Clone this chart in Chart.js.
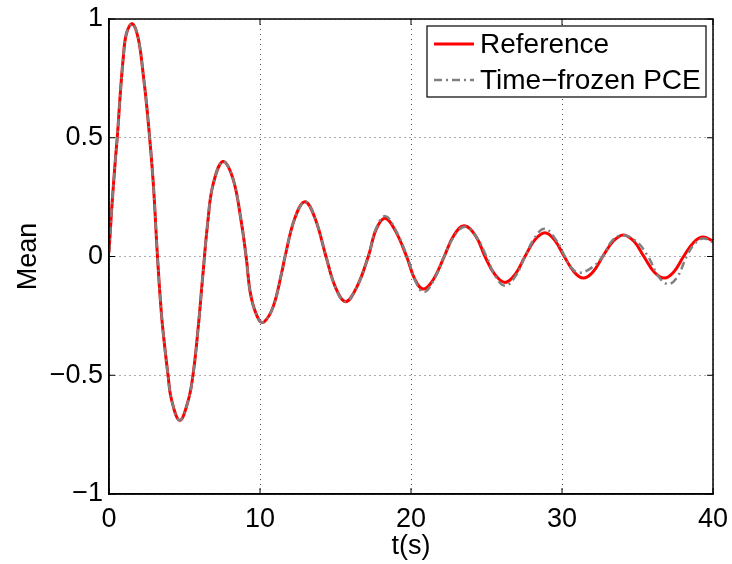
<!DOCTYPE html>
<html>
<head>
<meta charset="utf-8">
<script src="https://cdn.jsdelivr.net/npm/chart.js@4.4.1/dist/chart.umd.min.js"></script>
<style>
  html, body { margin: 0; padding: 0; background: #fff; }
  #wrap { width: 732px; height: 564px; }
</style>
</head>
<body>
<div id="wrap"><canvas id="meanChart" width="732" height="564"></canvas></div>
<script>
// values (t in seconds, mean response)
const tRef = [0, 0.18, 0.4, 0.57, 0.73, 0.95, 1.16, 1.54, 1.93, 2.26, 2.55, 2.92, 3.21, 3.47, 3.69,
  3.91, 4.13, 4.68, 5.23, 5.56, 5.89, 6.22, 6.55, 6.88, 7.54, 8.2, 8.75, 9.08, 9.41, 9.95, 10.29,
  10.88, 11.44, 11.66,
  12.3, 12.98, 13.65, 14.37, 15.0, 15.67, 16.4, 17.17, 17.7, 18.28, 18.95, 19.71, 20.25, 20.82,
  21.5, 22.2, 22.85, 23.53, 24.3, 24.9, 25.55, 26.23, 26.9, 27.55, 28.2, 28.87, 29.5, 30.15,
  30.8, 31.41, 32.05, 32.7, 33.4, 34.06, 34.75, 35.42, 36.1, 36.78, 37.4, 38.05, 38.7, 39.3, 40]
const meanRef = [0.017, 0.2, 0.39, 0.52, 0.67, 0.84, 0.94, 0.98, 0.92, 0.77, 0.6, 0.32, 0, -0.24, -0.38,
  -0.5, -0.6, -0.69, -0.61, -0.5, -0.31, -0.074, 0.15, 0.3, 0.4, 0.33, 0.15, 0, -0.17, -0.27, -0.275,
  -0.21, -0.067, 0,
  0.16, 0.231, 0.16, 0, -0.13, -0.19, -0.13, 0, 0.115, 0.161, 0.11, 0, -0.095, -0.137,
  -0.095, 0, 0.09, 0.129, 0.085, 0, -0.075, -0.109, -0.075, 0, 0.07, 0.1, 0.07, 0,
  -0.065, -0.091, -0.065, 0, 0.065, 0.091, 0.065, 0, -0.065, -0.091, -0.065, 0, 0.058, 0.082, 0.066]

const tPce = [0, 0.18, 0.4, 0.57, 0.73, 0.95, 1.16, 1.54, 1.93, 2.26, 2.55, 2.92, 3.21, 3.47, 3.69,
  3.91, 4.13, 4.68, 5.23, 5.56, 5.89, 6.22, 6.55, 6.88, 7.54, 8.2, 8.75, 9.08, 9.41, 9.95, 10.29,
  10.88, 11.44, 11.66,
  12.3, 12.98, 13.65, 14.37, 15.0, 15.67, 16.4, 17.17, 17.7, 18.3, 18.95, 19.75, 20.3, 20.85,
  21.5, 22.2, 22.9, 23.6, 24.35, 25.0, 25.6, 26.25, 26.95, 27.55, 28.2, 28.85, 29.55, 30.2,
  30.6, 31.1, 31.9, 32.7, 33.3, 34.0, 34.9, 35.7, 36.4, 37.04, 37.65, 38.25, 38.8, 39.35, 40]
const meanPce = [0.017, 0.2, 0.39, 0.52, 0.67, 0.84, 0.94, 0.98, 0.92, 0.77, 0.6, 0.32, 0, -0.24, -0.38,
  -0.5, -0.6, -0.69, -0.61, -0.5, -0.31, -0.074, 0.15, 0.3, 0.4, 0.33, 0.15, 0, -0.17, -0.27, -0.275,
  -0.21, -0.067, 0,
  0.16, 0.231, 0.16, 0, -0.13, -0.19, -0.13, 0, 0.12, 0.17, 0.115, 0, -0.105, -0.15,
  -0.1, 0, 0.09, 0.125, 0.08, 0, -0.085, -0.123, -0.08, 0, 0.08, 0.117, 0.075, 0,
  -0.045, -0.068, -0.05, 0, 0.065, 0.09, 0.065, 0, -0.085, -0.116, -0.085, 0, 0.055, 0.076, 0.06]

const seriesNames = ['Reference', 'Time\u2212frozen PCE']
const xTicks = [0, 10, 20, 30, 40]
const yTicks = [-1, -0.5, 0, 0.5, 1]

const FONT = 'Liberation Sans, Arial, Helvetica, sans-serif'

function pairs (xs, ys) {
  return xs.map(function (x, i) { return { x: x, y: ys[i] } })
}

function minusSign (v) {
  return String(v).replace('-', '\u2212')
}

// box around the axes, inward ticks, legend inside the plot (matlab style)
const boxAndLegend = {
  id: 'boxAndLegend',
  afterDatasetsDraw: function (chart) {
    const ctx = chart.ctx
    const a = chart.chartArea
    const sx = chart.scales.x
    const sy = chart.scales.y
    ctx.save()
    ctx.strokeStyle = '#000'
    ctx.lineWidth = 1.5
    ctx.setLineDash([])
    ctx.strokeRect(a.left, a.top, a.right - a.left, a.bottom - a.top)

    ctx.lineWidth = 1
    ctx.beginPath()
    xTicks.forEach(function (v) {
      const px = sx.getPixelForValue(v)
      ctx.moveTo(px, a.bottom); ctx.lineTo(px, a.bottom - 6)
      ctx.moveTo(px, a.top); ctx.lineTo(px, a.top + 6)
    })
    yTicks.forEach(function (v) {
      const py = sy.getPixelForValue(v)
      ctx.moveTo(a.left, py); ctx.lineTo(a.left + 6, py)
      ctx.moveTo(a.right, py); ctx.lineTo(a.right - 6, py)
    })
    ctx.stroke()

    const bx = 427
    const by = 26
    const bw = 279
    const bh = 71
    ctx.fillStyle = '#fff'
    ctx.fillRect(bx, by, bw, bh)
    ctx.lineWidth = 1.2
    ctx.strokeRect(bx, by, bw, bh)

    const rows = [44, 80]
    chart.data.datasets.forEach(function (ds, i) {
      ctx.beginPath()
      ctx.strokeStyle = ds.borderColor
      ctx.lineWidth = ds.borderWidth
      ctx.setLineDash(ds.borderDash || [])
      ctx.moveTo(bx + 7, rows[i])
      ctx.lineTo(bx + 47, rows[i])
      ctx.stroke()
      ctx.setLineDash([])
      ctx.fillStyle = '#000'
      ctx.font = '28px ' + FONT
      ctx.textBaseline = 'middle'
      ctx.textAlign = 'left'
      ctx.fillText(ds.label, bx + 53, rows[i] + 1)
    })
    ctx.restore()
  }
}

const ctx = document.getElementById('meanChart').getContext('2d')
const meanChart = new Chart(ctx, {
  type: 'line',
  data: {
    datasets: [{
      label: seriesNames[0],
      data: pairs(tRef, meanRef),
      borderColor: '#ff0000',
      borderWidth: 3,
      pointRadius: 0,
      tension: 0.4,
      order: 2
    }, {
      label: seriesNames[1],
      data: pairs(tPce, meanPce),
      borderColor: '#808080',
      borderWidth: 2.5,
      borderDash: [8, 4, 2, 4],
      pointRadius: 0,
      tension: 0.4,
      order: 1
    }]
  },
  options: {
    responsive: false,
    animation: false,
    layout: { padding: { left: 0, right: 19, top: 19, bottom: 0 } },
    plugins: {
      legend: { display: false },
      tooltip: { enabled: false }
    },
    scales: {
      x: {
        type: 'linear',
        min: 0,
        max: 40,
        afterBuildTicks: function (scale) {
          scale.ticks = xTicks.map(function (v) { return { value: v } })
        },
        afterFit: function (scale) {
          scale.height = 70
          scale.paddingLeft = 0
          scale.paddingRight = 0
        },
        ticks: {
          color: '#000',
          font: { family: FONT, size: 27 },
          padding: 9,
          maxRotation: 0,
          callback: minusSign
        },
        grid: {
          color: '#555',
          lineWidth: 1,
          drawTicks: false
        },
        border: { display: true, color: '#000', width: 1.5, dash: [1, 4] },
        title: {
          display: true,
          text: 't(s)',
          color: '#000',
          font: { family: FONT, size: 27 },
          padding: { top: 0, bottom: 1 }
        }
      },
      y: {
        min: -1,
        max: 1,
        afterBuildTicks: function (scale) {
          scale.ticks = yTicks.map(function (v) { return { value: v } })
        },
        afterFit: function (scale) {
          scale.width = 109
          scale.paddingTop = 0
          scale.paddingBottom = 0
        },
        ticks: {
          color: '#000',
          font: { family: FONT, size: 27 },
          padding: 6,
          callback: minusSign
        },
        grid: {
          color: '#555',
          lineWidth: 1,
          drawTicks: false
        },
        border: { display: true, color: '#000', width: 1.5, dash: [1, 4] },
        title: {
          display: true,
          text: 'Mean',
          color: '#000',
          font: { family: FONT, size: 27 },
          padding: { top: 12, bottom: 0 }
        }
      }
    }
  },
  plugins: [boxAndLegend]
})
meanChart.update()
</script>
</body>
</html>
